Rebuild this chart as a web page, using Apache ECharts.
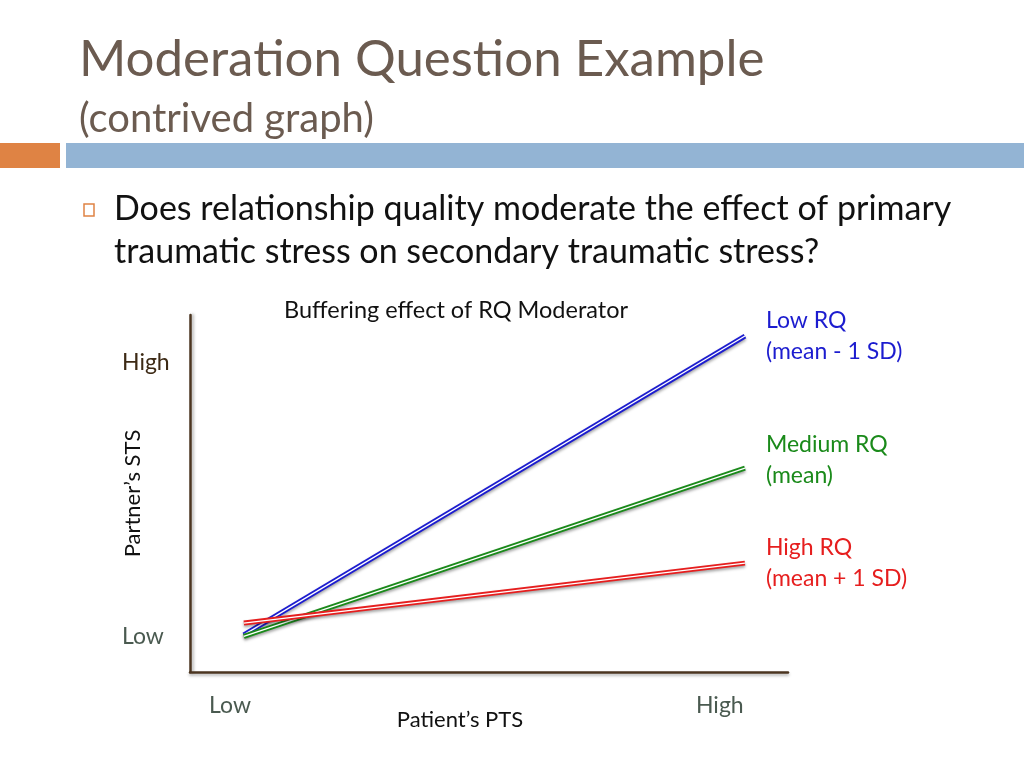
<!DOCTYPE html>
<html>
<head>
<meta charset="utf-8">
<script src="https://cdn.jsdelivr.net/npm/echarts@6/dist/echarts.min.js"></script>
<style>
  html, body { margin: 0; padding: 0; background: #fff; }
  #chart { width: 1024px; height: 768px; }
</style>
</head>
<body>
<div id="chart"></div>
<script>
// Patient's PTS (Low .. High) and Partner's STS for each RQ level
const xPoints = [0.9, 9.28];
const lowRQ = [1.04, 9.41];
const mediumRQ = [1.0, 5.71];
const highRQ = [1.37, 3.05];

const seriesNames = ['Low RQ', 'Medium RQ', 'High RQ'];
const seriesNotes = ['(mean - 1 SD)', '(mean)', '(mean + 1 SD)'];

const xTickLabels = ['Low', 'High'];
const xTickValues = [0.67, 8.86];
const yTickLabels = ['Low', 'High'];
const yTickValues = [0.98, 8.68];

const font = 'Lato, "Open Sans", sans-serif';

const chart = echarts.init(document.getElementById('chart'));

function pairs(ys) {
    return xPoints.map((x, i) => [x, ys[i]]);
}

function compoundLine(name, note, ys, color, dy) {
    return [
        {
            name: name,
            type: 'line',
            data: pairs(ys),
            symbol: 'none',
            silent: true,
            lineStyle: {
                color: color, width: 5,
                shadowColor: 'rgba(0,0,0,0.35)', shadowBlur: 3, shadowOffsetY: 2
            },
            endLabel: {
                show: true,
                formatter: name + '\n' + note,
                color: color,
                fontFamily: font,
                fontSize: 23,
                lineHeight: 31,
                align: 'left',
                distance: 21,
                offset: [0, dy]
            }
        },
        {
            type: 'line',
            data: pairs(ys),
            symbol: 'none',
            silent: true,
            lineStyle: { color: '#fff', width: 1.3 }
        }
    ];
}

chart.setOption({
    backgroundColor: '#fff',
    animation: false,
    graphic: [
        { type: 'text', left: 79, top: 34, style: { text: 'Moderation Question Example', fill: '#6b5b50', font: '51px ' + font } },
        { type: 'text', left: 79, top: 99, style: { text: '(contrived graph)', fill: '#6b5b50', font: '40px ' + font } },
        { type: 'rect', shape: { x: 0, y: 143, width: 60, height: 25 }, style: { fill: '#df8344' } },
        { type: 'rect', shape: { x: 66, y: 143, width: 958, height: 25 }, style: { fill: '#93b4d4' } },
        { type: 'rect', shape: { x: 84, y: 204, width: 10, height: 12 }, style: { fill: 'none', stroke: '#df8344', lineWidth: 1.5 } },
        { type: 'text', left: 114, top: 192, style: { text: 'Does relationship quality moderate the effect of primary', fill: '#111', font: '34px ' + font } },
        { type: 'text', left: 114, top: 235, style: { text: 'traumatic stress on secondary traumatic stress?', fill: '#111', font: '34px ' + font } },
        { type: 'text', left: 284, top: 298, style: { text: 'Buffering effect of RQ Moderator', fill: '#111', font: '23.5px ' + font } }
    ],
    grid: { left: 190, right: 236, top: 315, bottom: 96 },
    xAxis: {
        type: 'value',
        min: 0, max: 10,
        name: 'Patient\u2019s PTS',
        nameLocation: 'middle',
        nameGap: 37,
        nameMoveOverlap: false,
        nameTextStyle: { color: '#111', fontFamily: font, fontSize: 22, padding: [0, 58, 0, 0] },
        axisLine: { show: true, lineStyle: { color: '#4b3520', width: 2.5, shadowColor: 'rgba(0,0,0,0.3)', shadowBlur: 3, shadowOffsetY: 2 } },
        axisTick: { show: false },
        splitLine: { show: false },
        axisLabel: {
            customValues: xTickValues,
            formatter: v => xTickLabels[xTickValues.indexOf(v)] || '',
            color: '#4a5a50',
            fontFamily: font,
            fontSize: 23,
            margin: 22
        }
    },
    yAxis: {
        type: 'value',
        min: 0, max: 10,
        name: 'Partner\u2019s STS',
        nameLocation: 'middle',
        nameGap: 46,
        nameMoveOverlap: false,
        nameTextStyle: { color: '#111', fontFamily: font, fontSize: 22 },
        axisLine: { show: true, lineStyle: { color: '#4b3520', width: 2.5, shadowColor: 'rgba(0,0,0,0.3)', shadowBlur: 3, shadowOffsetX: 2 } },
        axisTick: { show: false },
        splitLine: { show: false },
        axisLabel: {
            customValues: yTickValues,
            formatter: v => {
                const i = yTickValues.indexOf(v);
                return i === 1 ? '{hi|' + yTickLabels[i] + '}' : '{lo|' + (yTickLabels[i] || '') + '}';
            },
            rich: {
                hi: { color: '#3d2a15', fontFamily: font, fontSize: 23 },
                lo: { color: '#4a5a50', fontFamily: font, fontSize: 23 }
            },
            align: 'left',
            margin: 68
        }
    },
    series: [
        ...compoundLine(seriesNames[0], seriesNotes[0], lowRQ, '#1c1ccf', 0),
        ...compoundLine(seriesNames[1], seriesNotes[1], mediumRQ, '#1a8a1a', -8),
        ...compoundLine(seriesNames[2], seriesNotes[2], highRQ, '#e61e1e', 0)
    ]
});

window.addEventListener('resize', () => chart.resize());
</script>
</body>
</html>
